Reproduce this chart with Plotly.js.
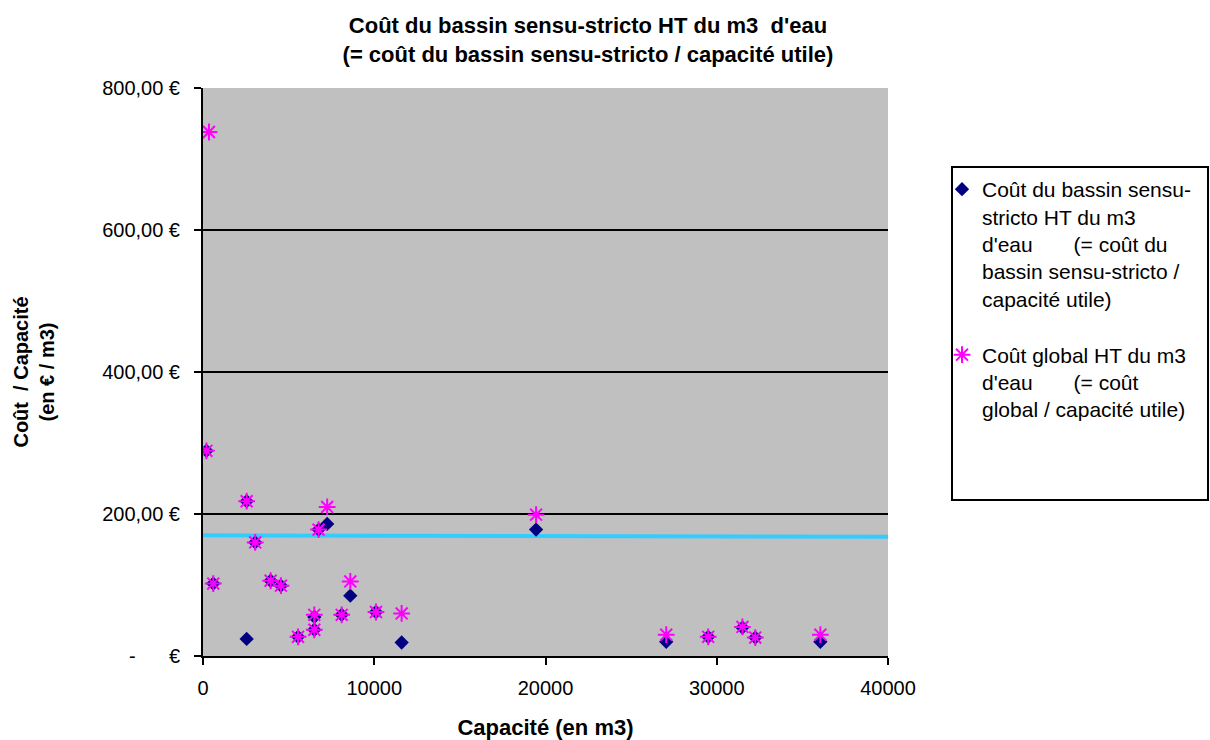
<!DOCTYPE html>
<html>
<head>
<meta charset="utf-8">
<script src="https://cdn.plot.ly/plotly-3.0.1.min.js"></script>
<style>html,body{margin:0;padding:0;background:#fff;}#chart{width:1210px;height:740px;}</style>
</head>
<body>
<div id="chart"></div>
<script>
// Series 1: Coût du bassin sensu-stricto HT du m3 d'eau
const bassinCapacite = [200, 600, 2550, 2550, 3050, 3950, 4550, 5550, 6500, 6500, 6750, 7250, 8100, 8600, 10100, 11600, 19450, 27050, 29500, 31500, 32250, 36050];
const bassinCout     = [289, 102, 218, 24, 160, 106, 99, 27, 55, 37, 178, 186, 58, 85, 62, 19, 178, 20, 27, 40, 26, 20];

// Series 2: Coût global HT du m3 d'eau
const globalCapacite = [350, 200, 600, 2550, 3050, 3950, 4550, 5550, 6500, 6500, 6750, 7250, 8100, 8600, 10100, 11600, 19450, 27050, 29500, 31500, 32250, 36050];
const globalCout     = [738, 289, 102, 218, 160, 106, 99, 27, 58, 37, 178, 210, 58, 105, 62, 60, 199, 30, 27, 41, 26, 30];

// Horizontal reference line (cyan)
const refLineX = [0, 40000];
const refLineY = [170, 168];

// Axis ticks
const yTickVals = [0, 200, 400, 600, 800];
const yTickText = ['-\u00a0\u00a0\u00a0\u00a0\u00a0\u00a0€', '200,00 €', '400,00 €', '600,00 €', '800,00 €'];
const xTickVals = [0, 10000, 20000, 30000, 40000];
const xTickText = ['0', '10000', '20000', '30000', '40000'];

// Labels
const chartTitle = 'Coût du bassin sensu-stricto HT du m3\u00a0 d\'eau<br>(= coût du bassin sensu-stricto / capacité utile)';
const xTitle = 'Capacité (en m3)';
const yTitle = 'Coût\u00a0 / Capacité<br>(en € / m3)';
const name1 = 'Coût du bassin sensu-<br>stricto HT du m3<br>d\'eau\u00a0\u00a0\u00a0\u00a0\u00a0\u00a0 (= coût du<br>bassin sensu-stricto /<br>capacité utile)';
const name2 = 'Coût global HT du m3<br>d\'eau\u00a0\u00a0\u00a0\u00a0\u00a0\u00a0 (= coût<br>global / capacité utile)';

const FONT = 'Liberation Sans, Arial, sans-serif';

const traces = [
  {
    x: refLineX, y: refLineY, mode: 'lines', type: 'scatter',
    line: {color: '#33ccff', width: 4}, showlegend: false, hoverinfo: 'skip'
  },
  {
    x: bassinCapacite, y: bassinCout, mode: 'markers', type: 'scatter', name: name1,
    legendgroup: 'a',
    marker: {symbol: 'diamond', size: 11, color: '#000080'}
  },
  {
    x: globalCapacite, y: globalCout, mode: 'markers', type: 'scatter', name: name2,
    legendgroup: 'b',
    marker: {symbol: 'asterisk-open', size: 14, color: '#ff00ff', line: {color: '#ff00ff', width: 2}}
  }
];

const PL = 203, PR = 888, PT = 88, PB = 656;
const pw = PR - PL, ph = PB - PT;

const layout = {
  width: 1210, height: 740,
  margin: {l: PL, r: 1210 - PR, t: PT, b: 740 - PB},
  paper_bgcolor: '#ffffff',
  plot_bgcolor: '#c0c0c0',
  font: {family: FONT, color: '#000', size: 20},
  title: {
    text: '<b>' + chartTitle + '</b>',
    font: {family: FONT, size: 22, color: '#000'},
    x: 588 / 1210, xanchor: 'center', xref: 'container',
    y: 1 - 33 / 740, yanchor: 'middle'
  },
  xaxis: {
    range: [0, 40000], tickvals: xTickVals, ticktext: xTickText,
    showgrid: false, zeroline: false,
    showline: true, linecolor: '#000', linewidth: 2,
    ticks: 'outside', ticklen: 7, tickwidth: 2, tickcolor: '#000',
    tickfont: {family: FONT, size: 20, color: '#000'},
    ticklabelstandoff: 6,
    title: {text: '<b>' + xTitle + '</b>', font: {family: FONT, size: 22, color: '#000'}, standoff: 22}
  },
  yaxis: {
    range: [0, 800], tickvals: yTickVals, ticktext: yTickText,
    showgrid: true, gridcolor: '#000', gridwidth: 1.5, zeroline: false,
    showline: true, linecolor: '#000', linewidth: 2,
    ticks: 'outside', ticklen: 7, tickwidth: 2, tickcolor: '#000',
    tickfont: {family: FONT, size: 20, color: '#000'},
    ticklabelstandoff: 10,
    title: {text: '<b>' + yTitle + '</b>', font: {family: FONT, size: 20, color: '#000'}, standoff: 42}
  },
  showlegend: true,
  legend: {
    x: (942 - PL) / pw, xanchor: 'left',
    y: (PB - 169) / ph, yanchor: 'top',
    bgcolor: 'rgba(0,0,0,0)', borderwidth: 0,
    font: {family: FONT, size: 21, color: '#000'},
    valign: 'top', tracegroupgap: 26, itemwidth: 30
  },
  shapes: [
    {type: 'rect', xref: 'paper', yref: 'paper',
     x0: (952 - PL) / pw, x1: (1208 - PL) / pw,
     y0: (PB - 500) / ph, y1: (PB - 167) / ph,
     line: {color: '#000', width: 2}, fillcolor: 'rgba(0,0,0,0)', layer: 'below'}
  ]
};

Plotly.newPlot('chart', traces, layout, {displayModeBar: false, staticPlot: true});
</script>
</body>
</html>
